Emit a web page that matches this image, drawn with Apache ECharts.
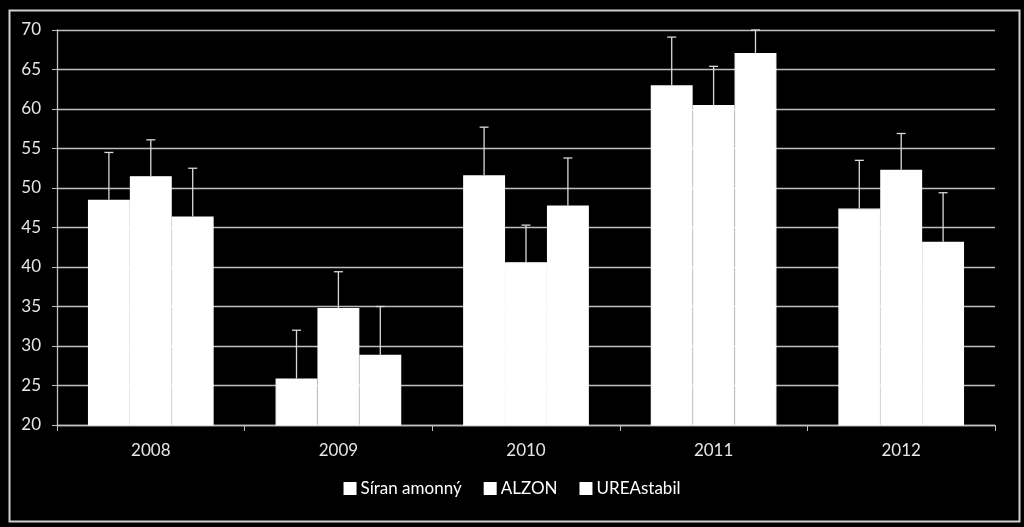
<!DOCTYPE html>
<html><head><meta charset="utf-8">
<script src="https://cdn.jsdelivr.net/npm/echarts@6/dist/echarts.min.js"></script>
<style>html,body{margin:0;padding:0;background:#000;}#c{width:1024px;height:527px;}</style>
</head><body><div id="c"></div>
<script>
var categories = ['2008', '2009', '2010', '2011', '2012'];
var seriesNames = ['Síran amonný', 'ALZON', 'UREAstabil'];
var siran = [48.5, 25.9, 51.6, 63.0, 47.4];
var alzon = [51.5, 34.8, 40.6, 60.5, 52.3];
var urea = [46.4, 28.9, 47.8, 67.1, 43.2];
var siranErr = [54.5, 32.0, 57.7, 69.1, 53.5];
var alzonErr = [56.1, 39.4, 45.3, 65.4, 56.9];
var ureaErr = [52.5, 35.0, 53.8, 70.0, 49.4];
var yTicks = [20, 25, 30, 35, 40, 45, 50, 55, 60, 65, 70];

var values = [siran, alzon, urea];
var errs = [siranErr, alzonErr, ureaErr];
var CAT_GAP = 0.33;
var FONT = 'Lato, "Open Sans", sans-serif';

function errSeries(idx) {
  var data = categories.map(function (c, i) { return [i, values[idx][i], errs[idx][i]]; });
  return {
    type: 'custom',
    name: seriesNames[idx] + ' err',
    z: 5,
    data: data,
    encode: { x: 0, y: [1, 2] },
    renderItem: function (params, api) {
      var ci = api.value(0);
      var base = api.coord([ci, api.value(1)]);
      var top = api.coord([ci, api.value(2)]);
      var band = api.size([1, 0])[0];
      var bw = band * (1 - CAT_GAP) / 3;
      var x = base[0] + (idx - 1) * bw;
      var cap = 4.5;
      var st = { stroke: '#d9d9d9', lineWidth: 1.3 };
      return {
        type: 'group',
        children: [
          { type: 'line', shape: { x1: x, y1: base[1], x2: x, y2: top[1] }, style: st },
          { type: 'line', shape: { x1: x - cap, y1: top[1], x2: x + cap, y2: top[1] }, style: st }
        ]
      };
    }
  };
}

var series = seriesNames.map(function (n, i) {
  return {
    type: 'bar', name: n, data: values[i],
    barGap: '0%', barCategoryGap: (CAT_GAP * 100) + '%',
    itemStyle: { color: '#ffffff', borderColor: '#ffffff', borderWidth: 1.2 }, z: 3
  };
}).concat([0, 1, 2].map(errSeries));

var chart = echarts.init(document.getElementById('c'));
chart.setOption({
  backgroundColor: '#000000',
  animation: false,
  graphic: [{
    type: 'rect', left: 7, top: 8, shape: { width: 1010, height: 511 },
    style: { fill: 'none', stroke: '#d0d0d0', lineWidth: 2 }, silent: true
  }],
  grid: { left: 57, right: 29, top: 30, bottom: 102 },
  legend: {
    data: seriesNames.map(function (n) { return { name: n, icon: 'rect' }; }),
    bottom: 25, left: 'center',
    itemWidth: 11, itemHeight: 11, itemGap: 22,
    textStyle: { color: '#ffffff', fontSize: 17, fontFamily: FONT }
  },
  xAxis: {
    type: 'category', data: categories,
    axisLine: { lineStyle: { color: '#bfbfbf', width: 1.3 } },
    axisTick: { show: true, length: 6, lineStyle: { color: '#bfbfbf' } },
    axisLabel: { color: '#e6e6e6', fontSize: 17, fontFamily: FONT, margin: 17 },
    splitLine: { show: false }
  },
  yAxis: {
    type: 'value', min: 20, max: 70, interval: 5,
    axisLine: { show: true, lineStyle: { color: '#bfbfbf', width: 1.3 } },
    axisTick: { show: true, length: 5, lineStyle: { color: '#bfbfbf' } },
    axisLabel: { color: '#e6e6e6', fontSize: 17, fontFamily: FONT, margin: 16,
      formatter: function (v) { return yTicks.indexOf(v) >= 0 ? String(v) : ''; } },
    splitLine: { show: true, lineStyle: { color: '#bfbfbf', width: 1.3 } }
  },
  series: series
});
</script></body></html>
